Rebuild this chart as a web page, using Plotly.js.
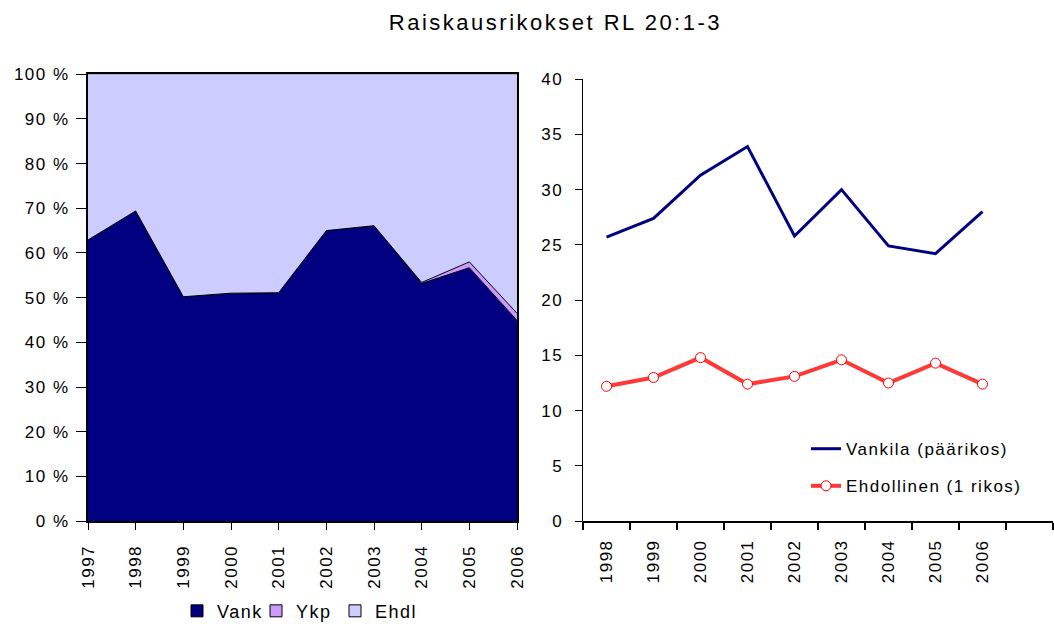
<!DOCTYPE html>
<html>
<head>
<meta charset="utf-8">
<script src="https://cdn.plot.ly/plotly-3.0.1.min.js"></script>
<style>
html,body{margin:0;padding:0;background:#fff;}
#chart{width:1054px;height:630px;}
.xtick text, .ytick text, .x2tick text, .y2tick text, text.xtick, text.ytick, text.x2tick, text.y2tick {letter-spacing:1.5px;}
.legendtext, .legend text, .legend2 text, g[class^="legend"] text {letter-spacing:1.5px !important;}
g[class^="legend"], g[class^="legend"] g {clip-path:none !important;}
.gtitle {letter-spacing:2.5px;}
</style>
</head>
<body>
<div id="chart"></div>
<script>
// Left chart: share of sentence types (%)
const yearsLeft = [1997, 1998, 1999, 2000, 2001, 2002, 2003, 2004, 2005, 2006];
const vank = [62.9, 69.4, 50.2, 51.0, 51.1, 65.0, 66.1, 53.2, 56.7, 44.9];
const ykp  = [0.0, 0.0, 0.0, 0.0, 0.0, 0.0, 0.0, 0.2, 1.3, 1.6];
const ehdl = [37.1, 30.6, 49.8, 49.0, 48.9, 35.0, 33.9, 46.6, 42.0, 53.5];

// Right chart: lengths (months)
const yearsRight = [1998, 1999, 2000, 2001, 2002, 2003, 2004, 2005, 2006];
const vankila = [25.7, 27.4, 31.3, 33.9, 25.8, 30.0, 24.9, 24.2, 28.0];
const ehdollinen = [12.2, 13.0, 14.8, 12.4, 13.1, 14.6, 12.5, 14.3, 12.4];

const leftTickVals = [0, 10, 20, 30, 40, 50, 60, 70, 80, 90, 100];
const rightTickVals = [0, 5, 10, 15, 20, 25, 30, 35, 40];
const rightBoundaries = [1997.5, 1998.5, 1999.5, 2000.5, 2001.5, 2002.5, 2003.5, 2004.5, 2005.5, 2006.5, 2007.5];

const areaNames = ['Vank', 'Ykp', 'Ehdl'];
const areaColors = ['#000080', '#cc99ff', '#ccccff'];

const fontFam = 'Arial, "Liberation Sans", sans-serif';

const traces = [
  {x: yearsLeft, y: vank, name: areaNames[0], type: 'scatter', mode: 'lines', stackgroup: 'one',
   fillcolor: areaColors[0], line: {color: '#000000', width: 1}, xaxis: 'x', yaxis: 'y', showlegend: false},
  {x: yearsLeft, y: ykp, name: areaNames[1], type: 'scatter', mode: 'lines', stackgroup: 'one',
   fillcolor: areaColors[1], line: {color: '#000000', width: 1}, xaxis: 'x', yaxis: 'y', showlegend: false},
  {x: yearsLeft, y: ehdl, name: areaNames[2], type: 'scatter', mode: 'lines', stackgroup: 'one',
   fillcolor: areaColors[2], line: {color: '#000000', width: 0.5}, xaxis: 'x', yaxis: 'y', showlegend: false}
];
// legend-only square swatches for the area series
areaNames.forEach((n, i) => traces.push({
  x: [null], y: [null], name: n, type: 'scatter', mode: 'markers', xaxis: 'x', yaxis: 'y',
  marker: {symbol: 'square', size: 12, color: areaColors[i], line: {color: '#000', width: 1}},
  legend: 'legend', showlegend: true
}));
traces.push(
  {x: yearsRight, y: vankila, name: 'Vankila (päärikos)', type: 'scatter', mode: 'lines',
   line: {color: '#000080', width: 3}, xaxis: 'x2', yaxis: 'y2', legend: 'legend2', legendgroup: 'a'},
  {x: yearsRight, y: ehdollinen, name: 'Ehdollinen (1 rikos)', type: 'scatter', mode: 'lines+markers',
   line: {color: '#ff3838', width: 4},
   marker: {symbol: 'circle', size: 10, color: '#ffffff', line: {color: '#ff0000', width: 1}},
   xaxis: 'x2', yaxis: 'y2', legend: 'legend2', legendgroup: 'b'}
);

const layout = {
  width: 1054, height: 630,
  margin: {l: 0, r: 0, t: 0, b: 0},
  paper_bgcolor: '#ffffff', plot_bgcolor: '#ffffff',
  font: {family: fontFam, size: 17, color: '#000000'},
  hovermode: false,
  title: {text: 'Raiskausrikokset RL 20:1-3', x: 0.527, xanchor: 'center', y: 0.965, yanchor: 'middle',
          font: {family: fontFam, size: 22, color: '#000000'}},
  xaxis: {domain: [88/1054, 517/1054], range: [1997, 2006], tickvals: yearsLeft, ticktext: yearsLeft.map(String),
          tickangle: -90, ticks: 'outside', ticklen: 7, tickcolor: '#000', showline: true, linecolor: '#000',
          linewidth: 2, mirror: true, showgrid: false, zeroline: false, tickfont: {size: 17},
          ticklabelstandoff: 8},
  yaxis: {domain: [1 - 527/630, 1 - 75/630], range: [0, 100], tickvals: leftTickVals,
          ticktext: leftTickVals.map(v => v + ' %'), ticks: 'outside', ticklen: 10, tickcolor: '#000',
          showline: true, linecolor: '#000', linewidth: 2, mirror: true, showgrid: false, zeroline: false,
          tickfont: {size: 17}, ticklabelstandoff: 3},
  xaxis2: {domain: [583/1054, 1053/1054], range: [1997.5, 2007.5], anchor: 'y2',
           tickvals: yearsRight, ticktext: yearsRight.map(String), tickangle: -90, ticks: '',
           showline: true, linecolor: '#000', linewidth: 1.5, showgrid: false, zeroline: false,
           tickfont: {size: 17}, ticklabelstandoff: 10,
           minor: {tickvals: rightBoundaries, ticks: 'outside', ticklen: 7, tickcolor: '#000', tickwidth: 1.5, showgrid: false}},
  yaxis2: {domain: [1 - 527/630, 1 - 80/630], range: [0, 40], anchor: 'x2', tickvals: rightTickVals,
           ticks: 'outside', ticklen: 7, tickcolor: '#000', showline: true, linecolor: '#000', linewidth: 1.5,
           showgrid: false, zeroline: false, tickfont: {size: 17}, ticklabelstandoff: 8},
  legend: {orientation: 'h', x: 177/1054, xanchor: 'left', y: 1 - 618/630, yanchor: 'middle',
           font: {size: 18}, bgcolor: 'rgba(0,0,0,0)', itemwidth: 30, traceorder: 'normal',
           entrywidth: 34, entrywidthmode: 'pixels'},
  legend2: {x: 806/1054, xanchor: 'left', y: 1 - 436/630, yanchor: 'top',
            font: {size: 17}, bgcolor: 'rgba(0,0,0,0)', tracegroupgap: 12, traceorder: 'grouped'}
};

Plotly.newPlot('chart', traces, layout, {displayModeBar: false, staticPlot: true});
</script>
</body>
</html>
